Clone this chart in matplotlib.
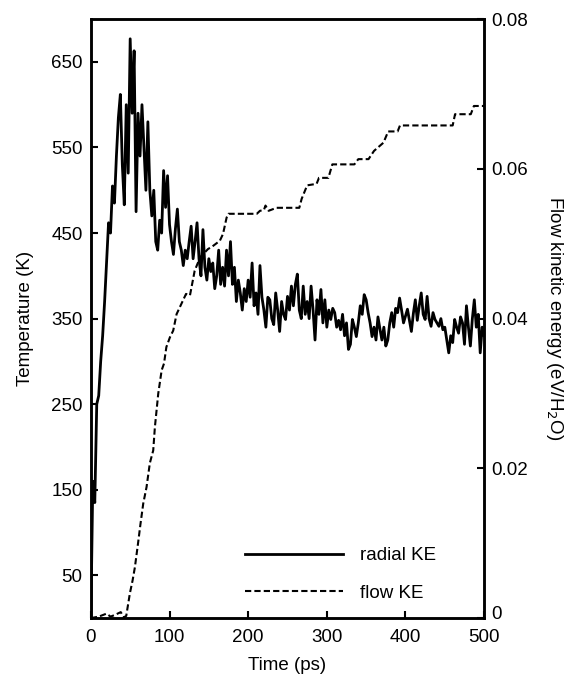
import numpy as np
import matplotlib
matplotlib.use("Agg")
import matplotlib.pyplot as plt
from matplotlib.transforms import ScaledTranslation

plt.rcParams["font.family"] = ["Liberation Sans", "DejaVu Sans"]
plt.rcParams["font.size"] = 13.5

# radial KE (temperature, K), sampled every 2.5 ps from 0 to 500 ps
radial_time = np.arange(0, 500.1, 2.5)
radial_temp = [
    0, 160, 135, 250, 260, 300, 330, 370, 415, 462,
    450, 505, 485, 540, 585, 612, 530, 483, 600, 520,
    677, 590, 663, 475, 590, 540, 600, 550, 500, 580,
    500, 470, 500, 440, 430, 465, 450, 523, 480, 517,
    460, 440, 425, 455, 478, 440, 430, 412, 430, 420,
    440, 458, 420, 440, 462, 420, 400, 454, 410, 395,
    420, 405, 415, 385, 400, 430, 390, 410, 388, 430,
    400, 440, 390, 410, 370, 395, 380, 360, 385, 370,
    395, 375, 415, 365, 380, 355, 412, 375, 360, 340,
    375, 372, 350, 343, 380, 360, 335, 370, 355, 349,
    376, 360, 388, 365, 390, 402, 360, 350, 388, 355,
    370, 350, 388, 360, 325, 372, 355, 384, 345, 372,
    340, 360, 349, 362, 357, 340, 348, 337, 355, 330,
    345, 314, 320, 349, 340, 329, 345, 365, 355, 378,
    372, 357, 345, 329, 340, 325, 352, 338, 325, 340,
    318, 325, 345, 357, 340, 362, 357, 374, 360, 345,
    353, 361, 348, 335, 356, 372, 348, 365, 380, 355,
    349, 376, 350, 341, 357, 349, 345, 341, 350, 337,
    340, 325, 310, 330, 322, 349, 340, 333, 352, 345,
    320, 365, 340, 318, 350, 372, 340, 355, 310, 340,
    330,
]

# flow KE (eV/H2O)
flow_time = [
    0, 10, 20, 25, 30, 38, 42, 45, 49.6, 53, 56, 60, 63, 66.6, 70.8, 75,
    79.3, 81.4, 85.7, 90, 93, 96, 100.5, 104.7, 109, 113, 121, 126, 132,
    139, 149, 154, 164, 168, 172.6, 175, 211, 215, 220, 222, 226, 236,
    265, 268, 275, 287, 290, 302, 307, 335, 340, 353, 360, 372, 378, 390,
    393, 460, 463, 483, 487, 500,
]
flow_ke = [
    0, 0.0002, 0.0006, 0.0002, 0.0004, 0.0008, 0.0001, 0.0003, 0.0033,
    0.005, 0.0068, 0.010, 0.0125, 0.0153, 0.0175, 0.0207, 0.0224, 0.0255,
    0.030, 0.0331, 0.034, 0.0362, 0.0375, 0.0384, 0.0406, 0.0415, 0.0433,
    0.0431, 0.0464, 0.0482, 0.0493, 0.0496, 0.0504, 0.0513, 0.0535, 0.054,
    0.054, 0.0544, 0.0545, 0.0551, 0.0544, 0.0548, 0.0548, 0.056, 0.0578,
    0.058, 0.0588, 0.0588, 0.0606, 0.0606, 0.0613, 0.0613, 0.0624, 0.0635,
    0.065, 0.065, 0.0658, 0.0658, 0.0673, 0.0673, 0.0684, 0.0684,
]

x_ticks = [0, 100, 200, 300, 400, 500]
temp_ticks = [50, 150, 250, 350, 450, 550, 650]
flow_ticks = [0, 0.02, 0.04, 0.06, 0.08]
flow_tick_labels = ["0", "0.02", "0.04", "0.06", "0.08"]

fig = plt.figure(figsize=(5.75, 6.83), dpi=100)
ax = fig.add_axes([0.158, 0.095, 0.684, 0.877])
ax2 = ax.twinx()

l1, = ax.plot(radial_time, radial_temp, color="black", lw=2.0, label="radial KE")
l2, = ax2.plot(flow_time, flow_ke, color="black", lw=1.5, ls=(0, (3, 1.5)), label="flow KE")

ax.set_xlim(0, 500)
ax.set_ylim(0, 700)
ax2.set_ylim(0, 0.08)

ax.set_xticks(x_ticks)
ax.set_yticks(temp_ticks)
ax2.set_yticks(flow_ticks)
ax2.set_yticklabels(flow_tick_labels)

for a in (ax, ax2):
    for s in a.spines.values():
        s.set_linewidth(1.8)
ax.tick_params(direction="in", length=5, width=1.5, pad=6)
ax.tick_params(axis="x", pad=8)
ax2.tick_params(direction="in", length=5, width=1.5, pad=5)

# lift the right-hand "0" a little so it clears the "500" below it
zero_lbl = ax2.get_yticklabels()[0]
zero_lbl.set_transform(zero_lbl.get_transform() + ScaledTranslation(0, 4 / 72, fig.dpi_scale_trans))

ax.set_xlabel("Time (ps)", labelpad=8)
ax.set_ylabel("Temperature (K)", labelpad=12)
ax2.set_ylabel("Flow kinetic energy (eV/H$_2$O)", rotation=270, labelpad=27)

ax.legend([l1, l2], ["radial KE", "flow KE"], loc="upper left",
          bbox_to_anchor=(0.35, 0.147), frameon=False, handlelength=5.2,
          handletextpad=0.9, labelspacing=1.1)

fig.savefig("out.png", dpi=100)
